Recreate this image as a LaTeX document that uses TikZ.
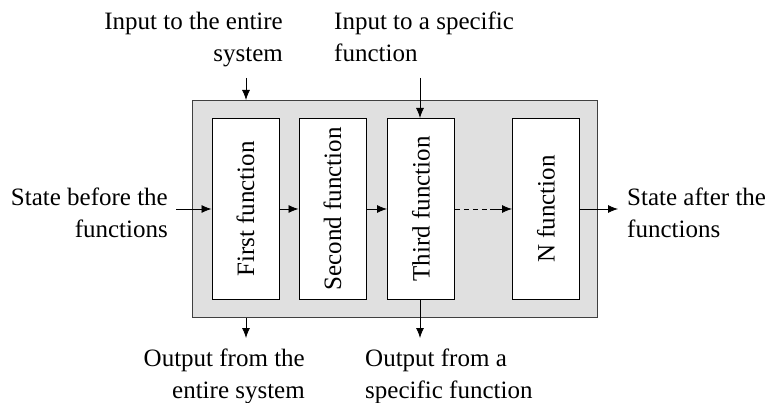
\documentclass[tikz,border=0pt]{standalone}
\usepackage{fontspec}
\setmainfont{Liberation Serif}
\usetikzlibrary{arrows.meta}
\begin{document}
\begin{tikzpicture}[x=1pt,y=-1pt,
  every node/.style={font=\fontsize{25}{32}\selectfont, inner sep=0pt},
  outerbox/.style={draw=black!75, line width=1pt, fill=black!12},
  funcbox/.style={draw=black, line width=0.9pt, fill=white, minimum width=67pt, minimum height=181pt},
  lbl/.style={align=left},
  rlbl/.style={align=right},
  arr/.style={line width=0.8pt, -{Latex[length=10pt,width=8pt]}},
  seg/.style={line width=0.8pt}
]
\useasboundingbox (0,0) rectangle (765,403);
\node[outerbox, minimum width=405pt, minimum height=217pt, anchor=north west] (sys) at (192,100) {};
\node[funcbox, anchor=north west] (f1) at (211.5,118) {};
\node[funcbox, anchor=north west] (f2) at (298.5,118) {};
\node[funcbox, anchor=north west] (f3) at (387,118) {};
\node[funcbox, anchor=north west] (fn) at (512,118) {};
\node[rotate=90] (t1) at (f1.center) {First function};
\node[rotate=90] (t2) at (f2.center) {Second function};
\node[rotate=90] (t3) at (f3.center) {Third function};
\node[rotate=90] (tn) at (fn.center) {N function};

\node[rlbl, anchor=base east] (insys) at (283,62) {Input to the entire\\system};
\node[lbl, anchor=base west] (infun) at (334,62) {Input to a specific\\function};
\node[rlbl, anchor=base east] (stb) at (168,237) {State before the\\functions};
\node[lbl, anchor=base west] (sta) at (627,237) {State after the\\functions};
\node[rlbl, anchor=base east] (outsys) at (305,398) {Output from the\\entire system};
\node[lbl, anchor=base west] (outfun) at (365,398) {Output from a\\specific function};

\coordinate (a0) at (176,209);
\coordinate (a1) at (f1.west |- a0);
\coordinate (d0) at (490,209);
\coordinate (e1) at (618,209);
\coordinate (top1) at (246,78);
\coordinate (top2) at (420,78);
\coordinate (bot1) at (246,338);
\coordinate (bot2) at (420,338);

\draw[arr] (a0) -- (a1);
\draw[arr] (f1.east |- a0) -- (f2.west |- a0);
\draw[arr] (f2.east |- a0) -- (f3.west |- a0);
\draw[seg, dash pattern=on 5pt off 4pt] (f3.east |- a0) -- (d0);
\draw[arr] (d0) -- (fn.west |- a0);
\draw[arr] (fn.east |- a0) -- (e1);
\draw[arr] (top1) -- (top1 |- sys.north);
\draw[arr] (top2) -- (top2 |- f3.north);
\draw[arr] (bot1 |- sys.south) -- (bot1);
\draw[arr] (bot2 |- f3.south) -- (bot2);
\end{tikzpicture}
\end{document}
